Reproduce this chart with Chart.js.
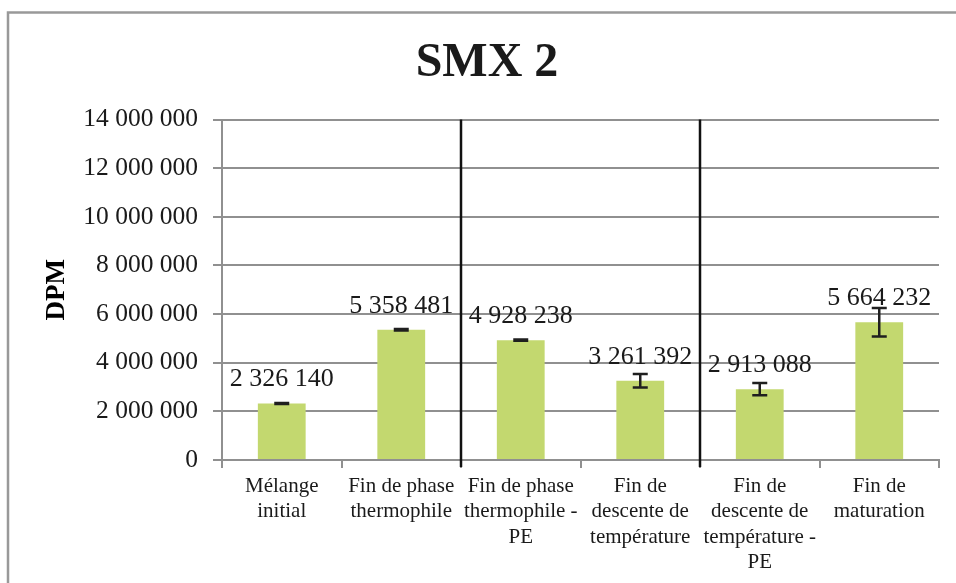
<html lang="fr">
<head>
  <meta charset="UTF-8">
  <title>SMX 2</title>
  <script src="https://cdn.jsdelivr.net/npm/chart.js"></script>
  <style>
    body { margin: 0; background: #fff; }
  </style>
</head>
<body>
  <canvas id="viz" width="956" height="583"></canvas>
  <script>
    const categories = [
      ['Mélange', 'initial'],
      ['Fin de phase', 'thermophile'],
      ['Fin de phase', 'thermophile -', 'PE'],
      ['Fin de', 'descente de', 'température'],
      ['Fin de', 'descente de', 'température -', 'PE'],
      ['Fin de', 'maturation']
    ]
    const dpm = [2326140, 5358481, 4928238, 3261392, 2913088, 5664232]
    const dpmError = [20000, 30000, 25000, 275000, 255000, 590000]
    const yTicks = [0, 2000000, 4000000, 6000000, 8000000, 10000000, 12000000, 14000000]
    // vertical separator after these category indexes
    const separatorsAfter = [1, 3]

    const serif = "'Liberation Serif', 'Times New Roman', serif"
    const fmt = v => String(v).replace(/\B(?=(\d{3})+(?!\d))/g, ' ')

    const frame = {
      id: 'frame',
      beforeDraw(chart) {
        const ctx = chart.ctx
        ctx.save()
        ctx.strokeStyle = '#999'
        ctx.lineWidth = 2.5
        ctx.strokeRect(8, 12.5, 1200, 1200)
        ctx.restore()
      }
    }

    const barExtras = {
      id: 'barExtras',
      afterDatasetsDraw(chart) {
        const ctx = chart.ctx
        const y = chart.scales.y
        const meta = chart.getDatasetMeta(0)
        ctx.save()
        meta.data.forEach((bar, i) => {
          const top = y.getPixelForValue(dpm[i] + dpmError[i])
          const bot = y.getPixelForValue(dpm[i] - dpmError[i])
          ctx.strokeStyle = '#1f1f1f'
          ctx.lineWidth = 2.5
          ctx.beginPath()
          ctx.moveTo(bar.x, top)
          ctx.lineTo(bar.x, bot)
          ctx.moveTo(bar.x - 7.5, top)
          ctx.lineTo(bar.x + 7.5, top)
          ctx.moveTo(bar.x - 7.5, bot)
          ctx.lineTo(bar.x + 7.5, bot)
          ctx.stroke()

          ctx.fillStyle = '#1a1a1a'
          ctx.font = '26px ' + serif
          ctx.textAlign = 'center'
          ctx.textBaseline = 'alphabetic'
          ctx.fillText(fmt(dpm[i]), bar.x, bar.y - 17)
        })
        ctx.restore()
      },
      afterDraw(chart) {
        const ctx = chart.ctx
        const x = chart.scales.x
        const area = chart.chartArea
        ctx.save()
        ctx.strokeStyle = '#111'
        ctx.lineWidth = 2.5
        separatorsAfter.forEach(i => {
          const px = (x.getPixelForValue(i) + x.getPixelForValue(i + 1)) / 2
          ctx.beginPath()
          ctx.moveTo(px, area.top)
          ctx.lineTo(px, area.bottom + 7)
          ctx.stroke()
        })
        ctx.restore()
      }
    }

    new Chart(document.getElementById('viz'), {
      type: 'bar',
      data: {
        labels: categories,
        datasets: [{
          label: 'DPM',
          data: dpm,
          backgroundColor: '#c3d86f',
          borderWidth: 0,
          barPercentage: 0.4,
          categoryPercentage: 1
        }]
      },
      plugins: [frame, barExtras],
      options: {
        responsive: false,
        animation: false,
        devicePixelRatio: 1,
        layout: { padding: { left: 35, right: 17, top: 0, bottom: 0 } },
        plugins: {
          legend: { display: false },
          tooltip: { enabled: false },
          title: {
            display: true,
            text: 'SMX 2',
            color: '#1a1a1a',
            font: { family: serif, size: 48, weight: 'bold', lineHeight: 1.2 },
            padding: { top: 35, bottom: 27 }
          }
        },
        scales: {
          x: {
            afterFit(scale) { scale.height = 123 },
            grid: {
              offset: true,
              drawOnChartArea: false,
              drawTicks: true,
              tickLength: 8,
              color: '#909090',
              lineWidth: 2
            },
            border: { color: '#909090', width: 2 },
            ticks: {
              color: '#1a1a1a',
              padding: 6,
              maxRotation: 0,
              autoSkip: false,
              font: { family: serif, size: 21, lineHeight: 1.2 }
            }
          },
          y: {
            min: yTicks[0],
            max: yTicks[yTicks.length - 1],
            afterFit(scale) { scale.width = 187 },
            afterBuildTicks(scale) { scale.ticks = yTicks.map(v => ({ value: v })) },
            grid: {
              color: '#909090',
              lineWidth: 2,
              tickLength: 9
            },
            border: { color: '#909090', width: 2 },
            ticks: {
              color: '#1a1a1a',
              padding: 15,
              font: { family: serif, size: 25.5 },
              callback: v => fmt(v)
            },
            title: {
              display: true,
              text: 'DPM',
              color: '#000',
              font: { family: serif, size: 27, weight: 'bold', lineHeight: 1.2 },
              padding: { top: 6, bottom: 0 }
            }
          }
        }
      }
    })
  </script>
</body>
</html>
